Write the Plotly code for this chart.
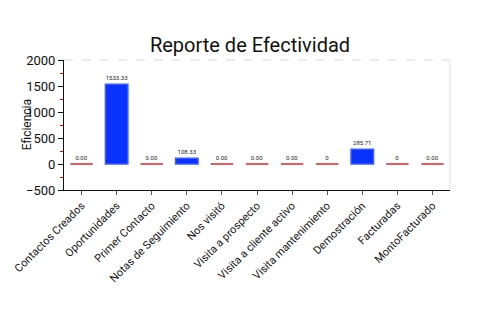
import plotly.graph_objects as go

categories = ["Contactos Creados", "Oportunidades", "Primer Contacto", "Notas de Seguimiento",
              "Nos visitó", "Visita a prospecto", "Visita a cliente activo", "Visita mantenimiento",
              "Demostración", "Facturadas", "MontoFacturado"]
values = [0.00, 1533.33, 0.00, 108.33, 0.00, 0.00, 0.00, 0, 285.71, 0, 0.00]
value_labels = ["0.00", "1533.33", "0.00", "108.33", "0.00", "0.00", "0.00", "0", "285.71", "0", "0.00"]
y_ticks = [-500, 0, 500, 1000, 1500, 2000]

FONT = "Roboto, Liberation Sans, sans-serif"

line_colors = ["#e0262b" if v == 0 else "#3a5cff" for v in values]

fig = go.Figure()
fig.add_trace(go.Bar(
    x=categories,
    y=values,
    width=0.64,
    marker=dict(color="#0a32ff", line=dict(color=line_colors, width=1.5)),
    text=value_labels,
    textposition="outside",
    textfont=dict(size=6, color="#222", family=FONT),
    cliponaxis=False,
))

fig.update_layout(
    width=500, height=330,
    margin=dict(l=61, r=50, t=60, b=140),
    paper_bgcolor="white", plot_bgcolor="white",
    showlegend=False,
    font=dict(family=FONT, color="#111"),
    title=dict(text="Reporte de Efectividad", x=0.5, xanchor="center", y=0.865, yanchor="middle",
               font=dict(size=20, family=FONT, color="#111")),
    xaxis=dict(
        showline=True, linecolor="#111", linewidth=1,
        ticks="outside", ticklen=4, tickcolor="#555",
        tickangle=-45, tickfont=dict(size=11, family=FONT, color="#111"),
        showgrid=False,
    ),
    yaxis=dict(
        range=[-500, 2000], tickvals=y_ticks,
        showline=True, linecolor="#111", linewidth=1,
        ticks="outside", ticklen=5, tickcolor="#111",
        minor=dict(dtick=250, ticks="outside", ticklen=3, tickcolor="#e00000", showgrid=False),
        tickfont=dict(size=13, family=FONT, color="#111"),
        showgrid=False, zeroline=False,
    ),
    annotations=[
        dict(text="Eficiencia", xref="paper", yref="paper", x=-0.095, y=0.5,
             xanchor="center", yanchor="middle", textangle=-90, showarrow=False,
             font=dict(size=12, family=FONT, color="#111")),
    ],
    shapes=[
        dict(type="line", xref="paper", yref="paper", x0=0, x1=1, y0=1, y1=1,
             line=dict(color="#dddddd", width=1, dash="dash")),
        dict(type="line", xref="paper", yref="paper", x0=1, x1=1, y0=0, y1=1,
             line=dict(color="#e2e2e2", width=1)),
    ],
)

fig.write_html("out.html")
